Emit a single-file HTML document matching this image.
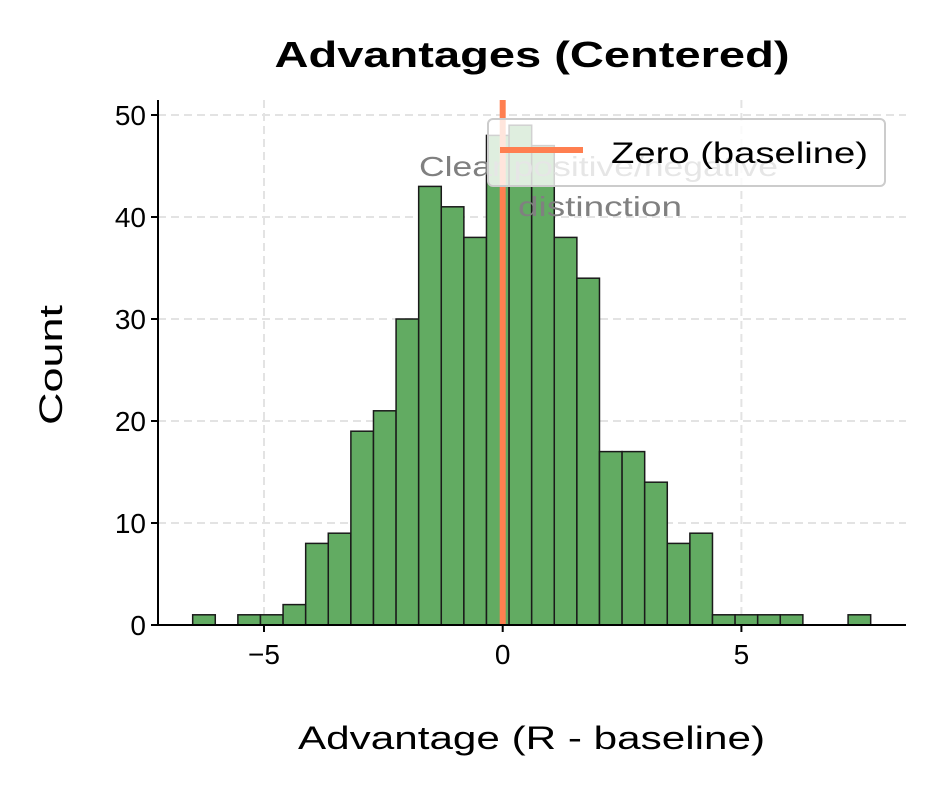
<!DOCTYPE html>
<html><head><meta charset="utf-8"><style>
body{margin:0;background:#fff;}
svg text{font-family:"Liberation Sans",sans-serif;}
</style></head><body>
<svg id="chart" width="934" height="784">
<text x="532" y="67" text-anchor="middle" font-size="36" font-weight="bold" fill="#000" textLength="515" lengthAdjust="spacingAndGlyphs">Advantages (Centered)</text>
<g id="grid"></g>
<g id="bars"></g>
<text x="419" y="176" font-size="28" fill="#808080" textLength="359" lengthAdjust="spacingAndGlyphs">Clear positive/negative</text>
<text x="518" y="216" font-size="28" fill="#808080" textLength="164" lengthAdjust="spacingAndGlyphs">distinction</text>
<line x1="502.7" y1="100" x2="502.7" y2="625" stroke="#ff7f50" stroke-width="6"/>
<g>
<rect x="488" y="119" width="397" height="67" rx="5" fill="#fff" fill-opacity="0.8" stroke="#ccc" stroke-width="2"/>
<line x1="500" y1="150" x2="583" y2="150" stroke="#ff7f50" stroke-width="6"/>
<text x="611" y="163" font-size="30" fill="#000" textLength="257" lengthAdjust="spacingAndGlyphs">Zero (baseline)</text>
</g>
<g id="axes"></g>
<text x="298" y="749" font-size="32" fill="#000" textLength="467" lengthAdjust="spacingAndGlyphs">Advantage (R - baseline)</text>
<text transform="translate(62,365) rotate(-90)" text-anchor="middle" font-size="32" fill="#000" textLength="120" lengthAdjust="spacingAndGlyphs">Count</text>
</svg>
<script>
const binStart = -6.494;
const binWidth = 0.4734;
const counts = [1,0,1,1,2,8,9,19,21,30,43,41,38,48,49,47,38,34,17,17,14,8,9,1,1,1,1,0,0,1];
const xTicks = [-5,0,5];
const xTickLabels = ["\u22125","0","5"];
const yTicks = [0,10,20,30,40,50];
const NS="http://www.w3.org/2000/svg";
const X0=158,X1=906,Y0=625;
function xs(v){return 502.7+v*47.74;}
function ys(v){return Y0-v*10.2;}
function mk(t,a,p){const e=document.createElementNS(NS,t);for(const k in a)e.setAttribute(k,a[k]);p.appendChild(e);return e;}
const grid=document.getElementById('grid'),bars=document.getElementById('bars'),axes=document.getElementById('axes');
yTicks.forEach(t=>{if(t===0)return;const l=mk('line',{x1:X0,x2:X1,y1:ys(t),y2:ys(t),stroke:'#e3e3e3','stroke-width':2,'stroke-dasharray':'8,5'},grid);

});
xTicks.forEach(t=>{const l=mk('line',{x1:xs(t),x2:xs(t),y1:100,y2:Y0,stroke:'#e3e3e3','stroke-width':2,'stroke-dasharray':'8,5'},grid);

});
counts.forEach((c,i)=>{if(c===0)return;const a=xs(binStart+i*binWidth),b=xs(binStart+(i+1)*binWidth);
const r=mk('rect',{x:a,y:ys(c),width:b-a,height:Y0-ys(c),fill:'#62ab62',stroke:'#1a1a1a','stroke-width':1.5},bars);

});
const ls=mk('line',{x1:X0,x2:X0,y1:100,y2:Y0+1,stroke:'#000','stroke-width':2},axes);


const bs=mk('line',{x1:X0-1,x2:X1,y1:Y0,y2:Y0,stroke:'#000','stroke-width':2},axes);


yTicks.forEach(t=>{mk('line',{x1:X0-7,x2:X0,y1:ys(t),y2:ys(t),stroke:'#000','stroke-width':2},axes);
const tx=mk('text',{x:X0-12,y:ys(t)+10,'text-anchor':'end','font-size':28},axes);tx.textContent=t;

});
xTicks.forEach((t,i)=>{mk('line',{x1:xs(t),x2:xs(t),y1:Y0,y2:Y0+7,stroke:'#000','stroke-width':2},axes);
const tx=mk('text',{x:xs(t),y:Y0+39,'text-anchor':'middle','font-size':28},axes);tx.textContent=xTickLabels[i];

});
</script>
</body></html>
